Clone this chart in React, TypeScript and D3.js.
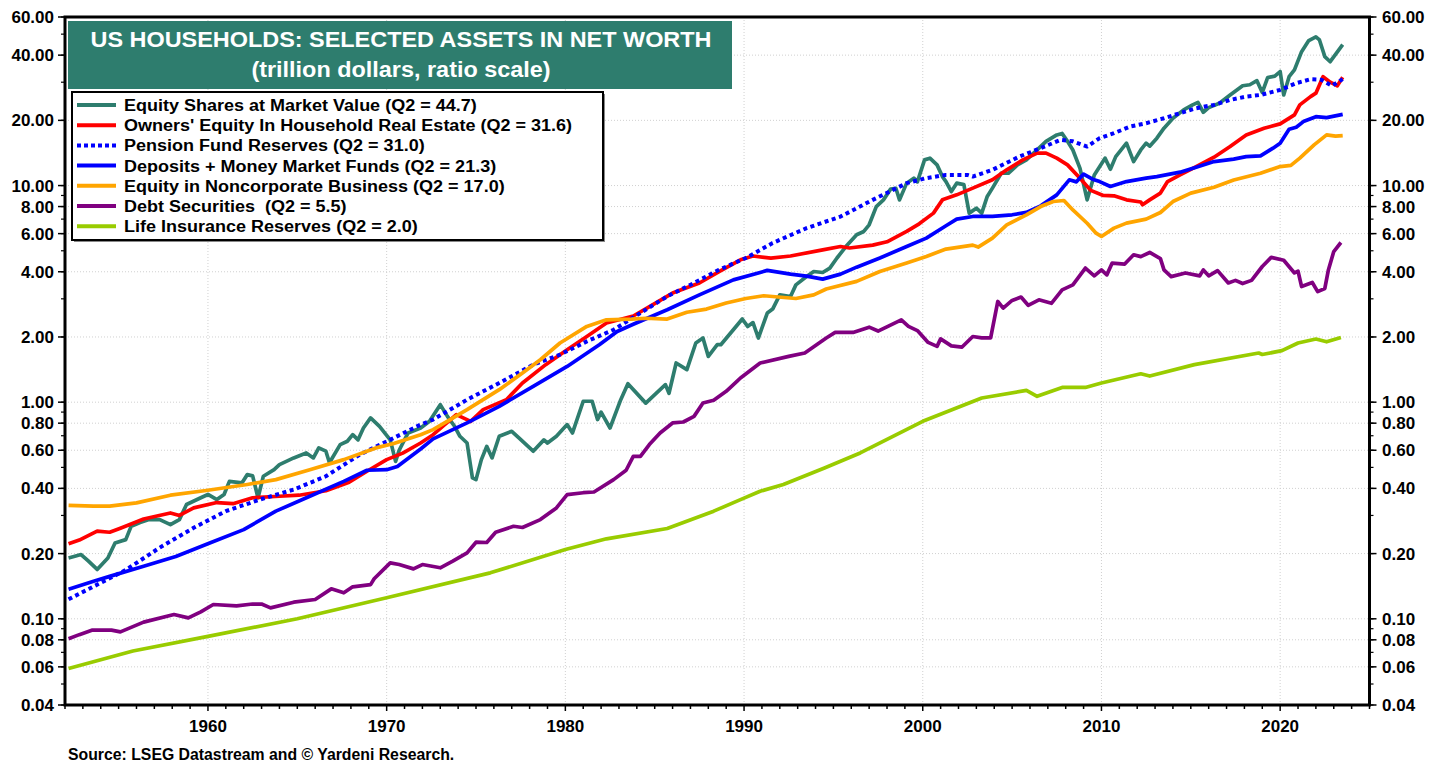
import React from "react";
import * as d3 from "d3";

type P = [number, number];

const equityShares: P[] = [
  [1952.2,0.191],[1952.9,0.198],[1953.3,0.185],[1953.8,0.169],[1954.4,0.191],[1954.8,0.224],[1955.4,0.232],[1955.7,0.267],[1956.2,0.278],[1956.7,0.287],[1957.3,0.287],[1957.9,0.272],[1958.4,0.287],[1958.8,0.337],[1959.6,0.362],[1960.0,0.375],[1960.5,0.355],[1960.9,0.375],[1961.2,0.431],[1961.9,0.424],[1962.2,0.463],[1962.5,0.457],[1962.8,0.362],[1963.1,0.455],[1963.7,0.488],[1964.0,0.515],[1964.8,0.553],[1965.5,0.583],[1965.9,0.553],[1966.2,0.615],[1966.6,0.594],[1966.8,0.525],[1967.4,0.637],[1967.8,0.66],[1968.1,0.708],[1968.4,0.67],[1968.7,0.76],[1969.1,0.846],[1969.6,0.774],[1970.2,0.67],[1970.5,0.533],[1970.7,0.60],[1971.2,0.721],[1971.9,0.76],[1972.4,0.816],[1973.0,0.974],[1973.4,0.86],[1973.8,0.774],[1974.1,0.696],[1974.5,0.648],[1974.8,0.447],[1975.0,0.439],[1975.3,0.543],[1975.6,0.625],[1975.9,0.553],[1976.3,0.696],[1977.0,0.734],[1977.4,0.684],[1978.2,0.594],[1978.8,0.67],[1979.0,0.648],[1979.5,0.696],[1980.1,0.788],[1980.4,0.721],[1981.0,1.01],[1981.5,1.01],[1981.8,0.831],[1982.0,0.90],[1982.5,0.76],[1983.1,1.027],[1983.5,1.217],[1984.5,0.99],[1984.9,1.064],[1985.6,1.205],[1985.8,1.10],[1986.2,1.517],[1986.8,1.413],[1987.3,1.876],[1987.7,1.978],[1988.0,1.627],[1988.5,1.842],[1988.7,1.842],[1989.4,2.16],[1989.9,2.42],[1990.2,2.237],[1990.5,2.33],[1990.8,1.978],[1991.3,2.58],[1991.6,2.69],[1992.0,3.13],[1992.6,3.076],[1992.9,3.48],[1993.5,3.80],[1993.9,4.01],[1994.4,3.97],[1994.8,4.16],[1995.2,4.63],[1995.7,5.23],[1996.3,5.93],[1996.7,6.14],[1997.0,6.59],[1997.4,8.0],[1997.8,8.59],[1998.2,9.63],[1998.5,9.7],[1998.7,8.59],[1999.1,10.26],[1999.5,10.82],[1999.7,10.4],[2000.1,13.14],[2000.4,13.38],[2000.8,12.46],[2001.1,11.0],[2001.3,10.43],[2001.6,9.38],[2001.9,10.26],[2002.3,10.1],[2002.6,7.46],[2003.0,7.86],[2003.3,7.46],[2003.6,8.87],[2003.9,9.73],[2004.4,11.43],[2004.8,11.4],[2005.3,12.46],[2005.8,13.14],[2006.4,14.6],[2006.9,16.0],[2007.5,17.13],[2007.8,17.4],[2008.1,16.0],[2008.4,14.6],[2008.8,12.0],[2009.2,8.59],[2009.6,11.2],[2010.2,13.38],[2010.5,11.9],[2010.8,13.6],[2011.4,15.69],[2011.8,12.9],[2012.2,14.6],[2012.5,15.69],[2012.7,15.2],[2013.1,16.55],[2013.5,18.4],[2014.0,20.46],[2014.6,22.35],[2015.1,23.57],[2015.4,24.2],[2015.7,21.8],[2016.0,22.9],[2016.6,24.0],[2017.2,26.2],[2017.9,28.9],[2018.3,29.2],[2018.7,30.5],[2019.0,26.9],[2019.3,31.5],[2019.7,32.0],[2020.0,33.6],[2020.2,26.2],[2020.5,31.8],[2020.8,34.2],[2021.2,41.5],[2021.6,46.7],[2022.0,48.6],[2022.2,47.0],[2022.5,39.4],[2022.8,37.3],[2023.5,44.7]
];

const ownersEquity: P[] = [
  [1952.2,0.222],[1952.8,0.231],[1953.8,0.254],[1954.5,0.251],[1955.1,0.262],[1956.4,0.289],[1957.9,0.308],[1958.4,0.30],[1959.2,0.325],[1960.5,0.344],[1961.4,0.34],[1962.5,0.362],[1964.0,0.368],[1965.1,0.372],[1966.6,0.39],[1967.9,0.427],[1968.9,0.48],[1970.0,0.543],[1970.9,0.582],[1971.9,0.648],[1972.6,0.708],[1973.9,0.876],[1974.7,0.816],[1975.4,0.924],[1976.7,1.027],[1977.6,1.226],[1978.9,1.49],[1980.1,1.747],[1981.2,2.01],[1982.3,2.32],[1983.8,2.50],[1984.9,2.82],[1986.0,3.19],[1987.5,3.55],[1988.6,4.01],[1989.8,4.54],[1990.5,4.73],[1991.5,4.62],[1992.6,4.73],[1994.4,5.05],[1995.4,5.23],[1995.9,5.15],[1997.2,5.31],[1998.0,5.5],[1999.1,6.14],[1999.8,6.66],[2000.6,7.46],[2001.1,8.59],[2001.9,9.06],[2002.8,9.73],[2003.9,10.63],[2004.7,11.82],[2005.6,13.14],[2006.4,14.11],[2006.9,14.11],[2007.5,13.38],[2008.1,12.46],[2008.8,10.8],[2009.4,9.5],[2010.1,9.0],[2010.7,8.97],[2011.4,8.59],[2012.2,8.4],[2012.3,8.15],[2012.7,8.59],[2013.3,9.23],[2013.7,10.43],[2014.4,11.2],[2015.3,12.24],[2016.3,13.52],[2017.2,15.14],[2018.1,17.13],[2019.1,18.4],[2020.0,19.26],[2020.8,21.2],[2021.1,23.57],[2021.7,25.74],[2022.0,26.7],[2022.4,31.8],[2022.8,30.0],[2023.2,28.9],[2023.5,31.6]
];

const pensionReserves: P[] = [
  [1952.2,0.123],[1953.6,0.141],[1955.4,0.168],[1957.3,0.213],[1959.2,0.263],[1961.0,0.314],[1962.9,0.355],[1964.8,0.395],[1966.6,0.455],[1968.5,0.573],[1970.4,0.684],[1971.9,0.788],[1972.6,0.831],[1974.5,1.027],[1976.3,1.226],[1978.2,1.49],[1979.7,1.657],[1981.2,1.908],[1982.7,2.16],[1984.2,2.58],[1985.7,3.08],[1987.2,3.55],[1988.6,4.085],[1990.1,4.63],[1991.6,5.43],[1993.5,6.36],[1995.4,7.19],[1997.2,8.59],[1999.1,10.26],[2000.2,10.82],[2001.3,11.2],[2002.5,11.2],[2002.8,11.0],[2003.9,11.82],[2005.4,13.6],[2006.6,14.88],[2007.7,16.25],[2008.4,16.0],[2009.2,15.14],[2009.9,16.55],[2010.7,17.45],[2011.6,18.72],[2012.5,19.4],[2013.5,20.46],[2014.4,21.6],[2015.3,22.75],[2016.3,23.57],[2017.2,24.86],[2018.1,25.74],[2018.9,26.2],[2020.0,27.64],[2020.9,29.69],[2021.7,30.96],[2022.3,30.8],[2022.9,28.9],[2023.5,31.0]
];

const deposits: P[] = [
  [1952.2,0.137],[1953.6,0.149],[1954.5,0.157],[1956.4,0.175],[1958.2,0.194],[1960.1,0.224],[1962.0,0.258],[1963.8,0.314],[1965.7,0.368],[1967.6,0.431],[1968.9,0.485],[1970.0,0.488],[1970.6,0.505],[1971.9,0.608],[1972.6,0.677],[1974.5,0.802],[1976.3,0.957],[1978.2,1.183],[1980.1,1.462],[1981.9,1.842],[1982.9,2.12],[1983.8,2.29],[1985.7,2.67],[1987.5,3.13],[1989.4,3.67],[1990.9,3.97],[1991.3,4.06],[1992.6,3.90],[1993.5,3.82],[1994.4,3.70],[1995.4,3.90],[1996.3,4.2],[1997.6,4.63],[1999.1,5.23],[2000.2,5.72],[2001.3,6.52],[2001.9,7.0],[2002.8,7.2],[2003.9,7.2],[2005.0,7.33],[2005.8,7.52],[2006.6,8.06],[2007.5,9.06],[2008.2,10.63],[2008.6,10.4],[2009.0,11.3],[2009.5,10.7],[2009.9,10.43],[2010.5,9.9],[2011.4,10.43],[2012.5,10.82],[2013.1,11.0],[2014.4,11.53],[2015.3,12.16],[2016.3,12.9],[2017.4,13.25],[2018.1,13.6],[2018.9,13.7],[2019.6,14.88],[2020.0,15.69],[2020.5,18.2],[2020.9,18.6],[2021.3,19.74],[2022.0,20.8],[2022.6,20.6],[2023.5,21.3]
];

const noncorporate: P[] = [
  [1952.2,0.334],[1953.6,0.331],[1954.5,0.331],[1956.0,0.343],[1957.9,0.372],[1959.9,0.391],[1962.2,0.417],[1963.8,0.439],[1965.7,0.488],[1967.6,0.543],[1969.4,0.615],[1970.4,0.645],[1971.9,0.708],[1972.6,0.747],[1974.5,0.924],[1976.3,1.142],[1977.6,1.364],[1978.6,1.57],[1979.7,1.876],[1981.2,2.237],[1982.3,2.40],[1983.7,2.42],[1984.5,2.44],[1985.7,2.42],[1986.8,2.60],[1987.9,2.69],[1989.0,2.87],[1990.1,3.01],[1991.1,3.1],[1992.9,3.01],[1993.9,3.13],[1994.6,3.33],[1996.3,3.61],[1997.6,4.01],[1999.1,4.39],[2000.2,4.71],[2001.3,5.09],[2002.8,5.31],[2003.1,5.2],[2003.9,5.72],[2004.7,6.59],[2005.8,7.33],[2006.6,8.0],[2007.3,8.44],[2007.9,8.53],[2008.4,7.72],[2009.2,6.7],[2009.7,6.03],[2010.0,5.82],[2010.7,6.36],[2011.4,6.71],[2012.5,7.0],[2013.3,7.51],[2014.0,8.44],[2015.0,9.23],[2016.3,9.83],[2017.4,10.6],[2018.9,11.4],[2020.0,12.24],[2020.6,12.4],[2021.1,13.38],[2021.9,15.41],[2022.6,17.13],[2023.1,16.9],[2023.5,17.0]
];

const debtSecurities: P[] = [
  [1952.2,0.0809],[1952.8,0.0845],[1953.5,0.0886],[1954.6,0.0886],[1955.1,0.087],[1956.4,0.0965],[1958.1,0.1047],[1958.9,0.101],[1959.6,0.1077],[1960.3,0.1164],[1961.6,0.1148],[1962.5,0.117],[1963.0,0.117],[1963.5,0.1123],[1964.8,0.1193],[1966.0,0.1228],[1966.9,0.1375],[1967.6,0.1318],[1968.1,0.1405],[1969.1,0.1438],[1969.3,0.153],[1970.2,0.1813],[1970.7,0.178],[1971.5,0.170],[1972.0,0.178],[1973.0,0.172],[1973.7,0.1845],[1974.5,0.2016],[1975.0,0.2257],[1975.6,0.225],[1976.1,0.251],[1977.1,0.2674],[1977.6,0.264],[1978.6,0.287],[1979.5,0.325],[1980.1,0.3745],[1981.0,0.382],[1981.6,0.385],[1982.7,0.439],[1983.4,0.485],[1983.8,0.562],[1984.2,0.562],[1984.7,0.637],[1985.3,0.721],[1986.0,0.802],[1986.6,0.81],[1987.2,0.86],[1987.7,0.992],[1988.3,1.02],[1989.0,1.122],[1989.6,1.247],[1989.8,1.293],[1990.9,1.517],[1992.5,1.627],[1993.4,1.687],[1994.6,1.978],[1995.1,2.099],[1996.1,2.099],[1997.0,2.22],[1997.5,2.13],[1998.8,2.40],[1999.2,2.24],[1999.7,2.14],[2000.3,1.888],[2000.8,1.81],[2001.0,1.96],[2001.6,1.82],[2002.2,1.797],[2002.8,2.01],[2003.3,1.98],[2003.8,1.98],[2004.2,2.917],[2004.5,2.72],[2005.0,2.95],[2005.5,3.057],[2005.9,2.8],[2006.5,2.97],[2007.2,2.86],[2007.8,3.30],[2008.4,3.48],[2009.1,4.16],[2009.6,3.83],[2010.0,4.08],[2010.3,3.87],[2010.6,4.386],[2011.3,4.34],[2011.8,4.79],[2012.2,4.70],[2012.7,4.91],[2013.3,4.6],[2013.5,4.08],[2013.9,3.80],[2014.7,3.95],[2015.5,3.83],[2015.7,4.08],[2016.0,3.83],[2016.5,4.05],[2017.1,3.55],[2017.5,3.65],[2017.9,3.53],[2018.4,3.65],[2019.0,4.23],[2019.5,4.66],[2020.2,4.52],[2020.8,3.95],[2021.0,4.03],[2021.2,3.42],[2021.8,3.57],[2022.1,3.24],[2022.5,3.35],[2022.7,4.08],[2023.0,4.96],[2023.4,5.46]
];

const lifeInsurance: P[] = [
  [1952.2,0.059],[1955.8,0.071],[1960.0,0.083],[1965.0,0.100],[1970.0,0.125],[1975.8,0.163],[1980.0,0.209],[1982.3,0.234],[1985.7,0.261],[1988.3,0.314],[1989.8,0.355],[1990.9,0.388],[1992.2,0.417],[1994.5,0.497],[1996.5,0.583],[2000.0,0.816],[2003.3,1.045],[2005.8,1.134],[2006.4,1.064],[2007.8,1.17],[2009.1,1.17],[2010.0,1.226],[2012.2,1.352],[2012.7,1.32],[2015.2,1.49],[2018.8,1.687],[2019.0,1.66],[2020.1,1.729],[2021.0,1.876],[2022.0,1.957],[2022.6,1.90],[2023.4,1.99]
];

const seriesLabels = [
  "Equity Shares at Market Value (Q2 = 44.7)",
  "Owners' Equity In Household Real Estate (Q2 = 31.6)",
  "Pension Fund Reserves (Q2 = 31.0)",
  "Deposits + Money Market Funds (Q2 = 21.3)",
  "Equity in Noncorporate Business (Q2 = 17.0)",
  "Debt Securities  (Q2 = 5.5)",
  "Life Insurance Reserves (Q2 = 2.0)",
];
const seriesData = [equityShares, ownersEquity, pensionReserves, deposits, noncorporate, debtSecurities, lifeInsurance];
const seriesColors = ["#2E7D6E", "#FF0000", "#0000FF", "#0000FF", "#FFA500", "#800080", "#99CC00"];
const seriesDashed = [false, false, true, false, false, false, false];

const yTickValues = [0.04, 0.06, 0.08, 0.1, 0.2, 0.4, 0.6, 0.8, 1, 2, 4, 6, 8, 10, 20, 40, 60];
const decadeTicks = [1960, 1970, 1980, 1990, 2000, 2010, 2020];
const titleLines = ["US HOUSEHOLDS: SELECTED ASSETS IN NET WORTH", "(trillion dollars, ratio scale)"];
const sourceText = "Source: LSEG Datastream and \u00A9 Yardeni Research.";

const FONT = "'Liberation Sans', Arial, Helvetica, sans-serif";

export default function App() {
  const L = 65, R = 1369.5, T = 17, B = 705;
  const x = d3.scaleLinear().domain([1952, 2025]).range([L, R]);
  const y = d3.scaleLog().domain([0.04, 60]).range([B, T]);
  const line = d3.line<P>().x(d => x(d[0])).y(d => y(d[1]));

  const years = d3.range(1952, 2026);
  const minorY: number[] = [];
  for (let k = -2; k <= 1; k++) for (let m = 1; m <= 9; m++) {
    const v = +(m * Math.pow(10, k)).toPrecision(3);
    if (v >= 0.04 && v <= 60) minorY.push(v);
  }
  const fmt = (v: number) => v.toFixed(2);

  const legX = 72, legY = 92, legW = 531, legH = 148;

  return (
    <svg width={1446} height={764} style={{ position: "absolute", left: 0, top: 0, background: "#fff" }} fontFamily={FONT}>
      <rect x={0} y={0} width={1446} height={764} fill="#fff" />
      {/* grid */}
      {yTickValues.filter(v => v > 0.04 && v < 60).map(v => (
        <line key={"gy" + v} x1={L} x2={R} y1={y(v)} y2={y(v)} stroke="#d0d0d0" strokeWidth={1} strokeDasharray="1 2" />
      ))}
      {decadeTicks.map(t => (
        <line key={"gx" + t} x1={x(t)} x2={x(t)} y1={T} y2={B} stroke="#d0d0d0" strokeWidth={1} strokeDasharray="1 2" />
      ))}
      {/* series */}
      {seriesData.map((d, i) => (
        <path key={"s" + i} d={line(d) || ""} fill="none" stroke={seriesColors[i]} strokeWidth={seriesDashed[i] ? 4 : 3.7}
          strokeDasharray={seriesDashed[i] ? "4 3.5" : undefined} strokeLinejoin="round" />
      ))}
      {/* frame */}
      <rect x={L} y={T} width={R - L} height={B - T} fill="none" stroke="#000" strokeWidth={3} />
      {/* x ticks */}
      {years.map(t => (
        <line key={"xt" + t} x1={x(t)} x2={x(t)} y1={B} y2={B + (decadeTicks.includes(t) ? 6 : 4)} stroke="#000" strokeWidth={1.5} />
      ))}
      {decadeTicks.map(t => (
        <text key={"xl" + t} x={x(t)} y={732} textAnchor="middle" fontSize={17} fontWeight="bold">{t}</text>
      ))}
      {/* y ticks */}
      {minorY.map(v => (
        <g key={"ym" + v}>
          <line x1={L - 4} x2={L} y1={y(v)} y2={y(v)} stroke="#000" strokeWidth={1.2} />
          <line x1={R} x2={R + 4} y1={y(v)} y2={y(v)} stroke="#000" strokeWidth={1.2} />
        </g>
      ))}
      {yTickValues.map(v => (
        <g key={"yl" + v}>
          <line x1={L - 7} x2={L} y1={y(v)} y2={y(v)} stroke="#000" strokeWidth={1.5} />
          <line x1={R} x2={R + 7} y1={y(v)} y2={y(v)} stroke="#000" strokeWidth={1.5} />
          <text x={54} y={y(v) + 6} textAnchor="end" fontSize={17} fontWeight="bold">{fmt(v)}</text>
          <text x={1382} y={y(v) + 6} textAnchor="start" fontSize={17} fontWeight="bold">{fmt(v)}</text>
        </g>
      ))}
      {/* title box */}
      <rect x={68} y={21} width={664} height={68} fill="#2E7D6E" />
      <text transform="translate(401,47) scale(1.09,1)" textAnchor="middle" fill="#fff" fontSize={21.5} fontWeight="bold">{titleLines[0]}</text>
      <text transform="translate(401,77) scale(1.09,1)" textAnchor="middle" fill="#fff" fontSize={21.5} fontWeight="bold">{titleLines[1]}</text>
      {/* legend */}
      <rect x={legX + 2} y={legY + 2} width={legW} height={legH} fill="#888" />
      <rect x={legX} y={legY} width={legW} height={legH} fill="#fff" stroke="#000" strokeWidth={2} />
      {seriesLabels.map((s, i) => {
        const cy = 105 + i * 20.2;
        return (
          <g key={"lg" + i}>
            <line x1={77} x2={116} y1={cy} y2={cy} stroke={seriesColors[i]} strokeWidth={4}
              strokeDasharray={seriesDashed[i] ? "4 3" : undefined} />
            <text transform={`translate(124,${cy + 6}) scale(1.06,1)`} fontSize={17} fontWeight="bold"
              style={{ whiteSpace: "pre" }}>{s}</text>
          </g>
        );
      })}
      <text x={68} y={760} fontSize={15.8} fontWeight="bold">{sourceText}</text>
    </svg>
  );
}
